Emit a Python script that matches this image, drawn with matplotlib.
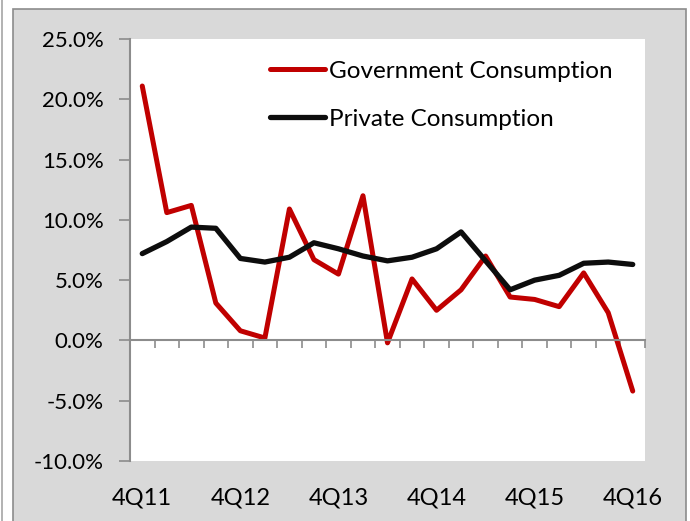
import matplotlib
matplotlib.use("Agg")
from matplotlib import pyplot as plt
from matplotlib.patches import Rectangle
from matplotlib.lines import Line2D
from matplotlib.ticker import FuncFormatter

quarters=["4Q11","1Q12","2Q12","3Q12","4Q12","1Q13","2Q13","3Q13","4Q13","1Q14","2Q14",
	"3Q14","4Q14","1Q15","2Q15","3Q15","4Q15","1Q16","2Q16","3Q16","4Q16"]
gov=[21.1,10.6,11.2,3.1,0.8,0.2,10.9,6.7,5.5,12.0,-0.2,5.1,2.5,4.2,7.0,3.6,3.4,2.8,5.6,2.3,-4.2]
priv=[7.2,8.2,9.4,9.3,6.8,6.5,6.9,8.1,7.6,7.0,6.6,6.9,7.6,9.0,6.6,4.2,5.0,5.4,6.4,6.5,6.3]
yticks=[-10,-5,0,5,10,15,20,25]

plt.rcParams['font.family']=['Lato','DejaVu Sans']
W,H=690,521
fig=plt.figure(figsize=(W/100,H/100),dpi=100)
fig.patch.set_facecolor("white")

# chart area frame
fig.patches.append(Rectangle((13/W,-0.01),(686-13)/W,(H-9)/H+0.01,transform=fig.transFigure,
	facecolor="#d9d9d9",edgecolor="#8c8c8c",lw=1.2,zorder=-10))
fig.lines.append(Line2D([2/W,2/W],[0,1],transform=fig.transFigure,color="#a6a6a6",lw=1.2,zorder=-10))

ax=fig.add_axes([130/W,(H-461)/H,515/W,422/H])
ax.set_zorder(5)
ax.set_facecolor("white")
x=list(range(len(quarters)))
ax.plot(x,gov,color="#c00000",lw=3.6,label="Government Consumption",solid_joinstyle="round",solid_capstyle="round")
ax.plot(x,priv,color="#0d0d0d",lw=3.8,label="Private Consumption",solid_joinstyle="round",solid_capstyle="round")

ax.set_xlim(-0.5,len(quarters)-0.5)
ax.set_ylim(-10,25)
ax.set_yticks(yticks)
ax.yaxis.set_major_formatter(FuncFormatter(lambda v,p:"%.1f%%"%v))
ax.tick_params(axis='y',direction='out',length=8,width=1.2,color="#8c8c8c",labelsize=16,pad=11,labelcolor="black")

for s in ["top","right"]:
	ax.spines[s].set_visible(False)
ax.spines["left"].set_color("#8c8c8c")
ax.spines["left"].set_linewidth(1.5)
ax.spines["bottom"].set_position(("data",0))
ax.spines["bottom"].set_color("#8c8c8c")
ax.spines["bottom"].set_linewidth(1.5)
ax.set_xticks([i-0.5 for i in range(len(quarters)+1)])
ax.set_xticklabels([])
ax.tick_params(axis='x',direction='out',length=6,width=1.2,color="#8c8c8c")

sec=ax.secondary_xaxis('bottom')
sec.spines["bottom"].set_visible(False)
sec.set_xticks(x[::4])
sec.set_xticklabels(quarters[::4])
sec.tick_params(length=0,labelsize=17,pad=19)

ax.legend(loc="upper left",bbox_to_anchor=(0.272,0.948),frameon=False,fontsize=17.5,
	handlelength=2.26,handletextpad=0.16,labelspacing=1.1,borderpad=0,borderaxespad=0)

fig.savefig("out.png",dpi=100,facecolor=fig.get_facecolor())
